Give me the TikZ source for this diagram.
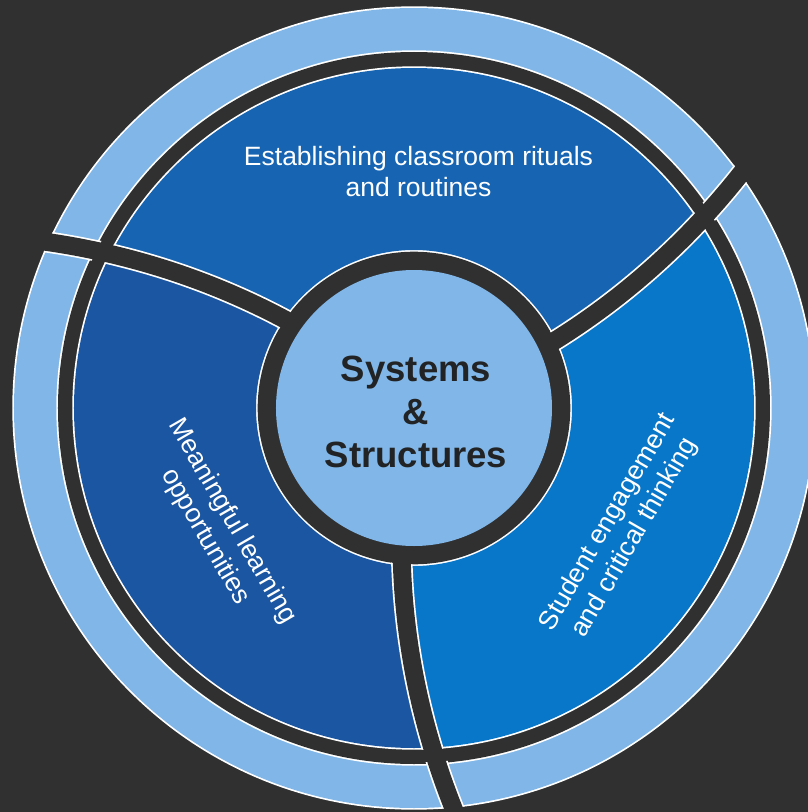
\documentclass[tikz,border=0pt]{standalone}
\usepackage{fontspec}
\setmainfont{Liberation Sans}
\definecolor{bgdark}{HTML}{303031}
\definecolor{paleblue}{HTML}{80B7E8}
\definecolor{topblue}{HTML}{1664B2}
\definecolor{leftblue}{HTML}{1B56A2}
\definecolor{rightblue}{HTML}{0977C9}
\definecolor{inkdark}{HTML}{222324}

% twist of the spiral dividers, in degrees per unit of radius
\def\tw{0.041}
% one curved divider, starting at base angle #1
\newcommand\divline[1]{plot[domain=140:440,samples=50,variable=\r] ({#1+\tw*(\r-160)}:{\r})}
% wedge between the dividers at #1 and #1+120
\newcommand\wedgepath[1]{(0,0) -- plot[domain=120:440,samples=50,variable=\r] ({#1+\tw*(\r-160)}:{\r})
  arc[start angle={#1+\tw*280}, end angle={#1+120+\tw*280}, radius=440]
  -- plot[domain=440:120,samples=50,variable=\r] ({#1+120+\tw*(\r-160)}:{\r}) -- cycle}

\tikzset{
  label/.style={text=white, font=\fontsize{26.5}{31}\selectfont, align=center, inner sep=0pt},
  hub/.style={text=inkdark, font=\fontsize{36.5}{43}\selectfont\bfseries, align=center, inner sep=0pt},
}

\begin{document}
\begin{tikzpicture}[x=1pt,y=1pt]
\useasboundingbox (-414,-404) rectangle (394,408);
\fill[bgdark] (-414,-404) rectangle (394,408);

% outer ring with its white rims
\fill[white] (0,0) circle (401.7);
\fill[paleblue] (0,0) circle (400);
\fill[white] (0,0) circle (357.7);
\fill[bgdark] (0,0) circle (356);

% three coloured segments with white rims
\fill[white] (0,0) circle (341.7);
\foreach \a/\c in {25.7/topblue, 145.7/leftblue, 265.7/rightblue}{
  \begin{scope}
    \clip \wedgepath{\a};
    \fill[\c, even odd rule] (0,0) circle (340) (0,0) circle (158);
  \end{scope}
}
\fill[bgdark] (0,0) circle (156.3);

% curved dividers: white rims only where they cross coloured areas
\foreach \a in {25.7, 145.7, 265.7}{
  \begin{scope}[even odd rule]
    \clip (0,0) circle (401.7) (0,0) circle (354.3)
          (0,0) circle (341.7) (0,0) circle (156.3);
    \draw[white, line width=21.4] \divline{\a};
  \end{scope}
  \draw[bgdark, line width=18] \divline{\a};
}

% hub
\fill[paleblue] (0,0) circle (138);

\node[hub] (core) at (2,-4) {Systems\\\&\\Structures};
\node[label] (routines) at (4.5,236) {Establishing classroom rituals\\and routines};
\node[label, rotate=-60] (learning) at (-195.5,-121) {Meaningful learning\\opportunities};
\node[label, rotate=60] (engagement) at (207.5,-122) {Student engagement\\and critical thinking};
\end{tikzpicture}
\end{document}
